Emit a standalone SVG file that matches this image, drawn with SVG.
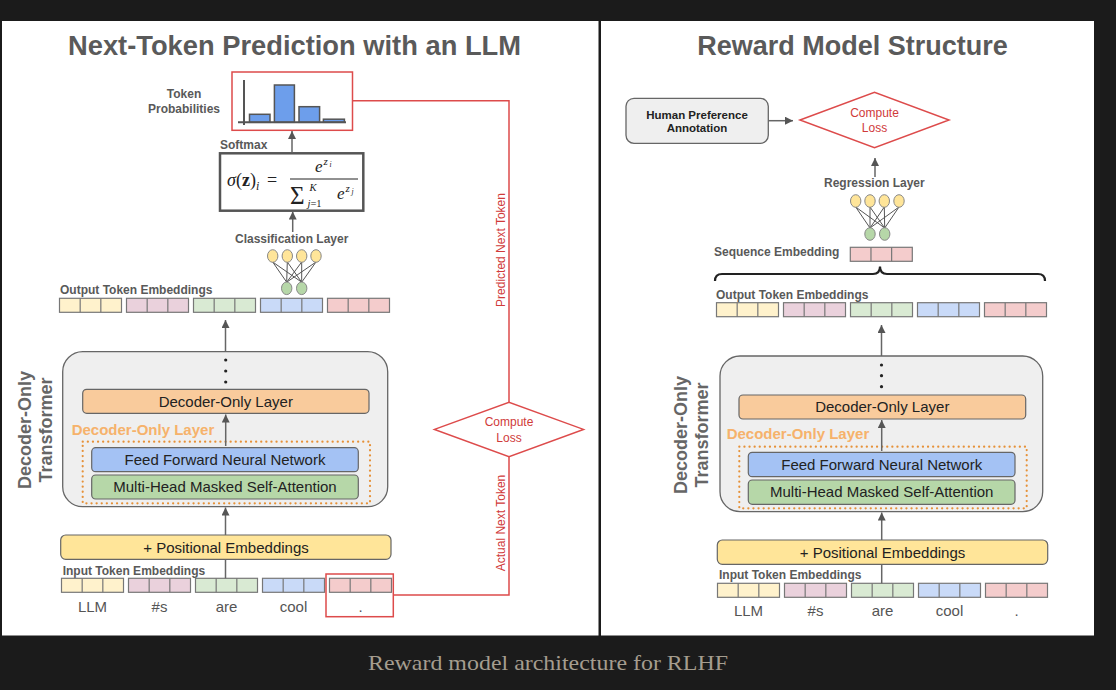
<svg xmlns="http://www.w3.org/2000/svg" xmlns:xlink="http://www.w3.org/1999/xlink" width="1116" height="690" viewBox="0 0 1116 690">
<defs>
<style>
text{font-family:"Liberation Sans",Arial,sans-serif}
.title{font-size:27px;font-weight:bold;fill:#5a5a5a;text-anchor:middle}
.lbl{font-size:12px;font-weight:bold;fill:#595959}
.lblc{font-size:12px;font-weight:bold;fill:#595959;text-anchor:middle}
.box{stroke:#666;stroke-width:1.2}
.btxt{font-size:15px;fill:#222;text-anchor:middle}
.tok{font-size:15px;fill:#555;text-anchor:middle}
.emb{stroke:#777;stroke-width:1.2}
.div{stroke:#777;stroke-width:1.2;fill:none}
.y{fill:#fff2cc}.p{fill:#ead1dc}.g{fill:#d9ead3}.b{fill:#c9daf8}.r{fill:#f4cccc}
.arrow{stroke:#666;stroke-width:1.5;fill:none;marker-end:url(#ah)}
.line{stroke:#666;stroke-width:1.5;fill:none}
.red{stroke:#dd4b4b;stroke-width:1.5;fill:none}
.redtxt{fill:#d03a3a;font-size:12px;text-anchor:middle}
.vtxt{font-size:18px;font-weight:bold;fill:#666;text-anchor:middle}
.olbl{font-size:15px;font-weight:bold;fill:#f6b26b}
.dots{fill:none;stroke:#e69138;stroke-width:2.2;stroke-linecap:round;stroke-dasharray:0.1 5}
.cy{fill:#ffe599;stroke:#888;stroke-width:1}
.cg{fill:#b6d7a8;stroke:#888;stroke-width:1}
.nn{stroke:#555;stroke-width:1;fill:none}
.serif{font-family:"Liberation Serif","Times New Roman",serif;fill:#222}
.hpa{font-size:11.5px;font-weight:bold;fill:#222;text-anchor:middle}
.caption{font-family:"Liberation Serif","Times New Roman",serif;font-size:21px;fill:#a59d8f;text-anchor:middle}
</style>
<marker id="ah" viewBox="0 0 10 10" refX="10" refY="5" markerUnits="userSpaceOnUse" markerWidth="9" markerHeight="8" orient="auto">
<path d="M0,0 L10,5 L0,10 z" fill="#555"/>
</marker>
<path id="dv" d="M20.67,0 v14 M41.33,0 v14" class="div"/>
</defs>

<rect x="0" y="0" width="1116" height="690" fill="#1b1b1b"/>
<rect x="2" y="21" width="596.5" height="614.5" fill="#ffffff"/>
<rect x="601" y="21" width="493" height="614.5" fill="#ffffff"/>

<text class="title" x="294.5" y="55" textLength="453" lengthAdjust="spacingAndGlyphs">Next-Token Prediction with an LLM</text>
<text class="title" x="852.5" y="55">Reward Model Structure</text>

<!-- LEFT PANEL -->
<g id="token-probabilities">
<text class="lblc" x="184" y="98">Token</text>
<text class="lblc" x="184" y="112.5">Probabilities</text>
<rect x="232" y="72" width="120.5" height="58.3" fill="#fff" stroke="#dd4b4b" stroke-width="1.5"/>
<rect x="249.5" y="114.3" width="20.5" height="8" fill="#6d9eeb" stroke="#555" stroke-width="1.5"/>
<rect x="274.4" y="85" width="20" height="37.3" fill="#6d9eeb" stroke="#555" stroke-width="1.5"/>
<rect x="299" y="106.7" width="20.6" height="15.6" fill="#6d9eeb" stroke="#555" stroke-width="1.5"/>
<rect x="323.4" y="119.2" width="21" height="3.1" fill="#6d9eeb" stroke="#555" stroke-width="1.5"/>
<path d="M244,80 V125 M238,122.3 H346" stroke="#555" stroke-width="2" fill="none"/>
</g>

<g id="softmax">
<text class="lbl" x="220" y="149">Softmax</text>
<rect x="220" y="153.3" width="143.3" height="57.4" fill="#fff" stroke="#555" stroke-width="2.5"/>
<text class="serif" x="227" y="186" font-size="18"><tspan font-style="italic">σ</tspan>(<tspan font-weight="bold">z</tspan>)<tspan font-style="italic" font-size="12" dy="4">i</tspan></text>
<text class="serif" x="267" y="186" font-size="18">=</text>
<path d="M290,179 H358" stroke="#222" stroke-width="1"/>
<text class="serif" x="315" y="172" font-size="17" font-style="italic">e</text>
<text class="serif" x="323.5" y="164.5" font-size="11" font-style="italic">z</text>
<text class="serif" x="329.5" y="167" font-size="7.5" font-style="italic">i</text>
<text class="serif" x="290" y="203.5" font-size="25">Σ</text>
<text class="serif" x="309.5" y="191" font-size="10.5" font-style="italic">K</text>
<text class="serif" x="307.5" y="207" font-size="10.5"><tspan font-style="italic">j</tspan>=1</text>
<text class="serif" x="337" y="199" font-size="17" font-style="italic">e</text>
<text class="serif" x="345.5" y="191.5" font-size="11" font-style="italic">z</text>
<text class="serif" x="351.5" y="194" font-size="7.5" font-style="italic">j</text>
</g>

<g id="classification-layer">
<text class="lbl" x="235" y="243.3">Classification Layer</text>
<path class="nn" d="M272.7,262 L286.7,282.2 M272.7,262 L301.7,282.2 M287.3,262 L286.7,282.2 M287.3,262 L301.7,282.2 M301.7,262 L286.7,282.2 M301.7,262 L301.7,282.2 M316,262 L286.7,282.2 M316,262 L301.7,282.2"/>
<ellipse class="cy" cx="272.7" cy="256" rx="5.2" ry="6.3"/>
<ellipse class="cy" cx="287.3" cy="256" rx="5.2" ry="6.3"/>
<ellipse class="cy" cx="301.7" cy="256" rx="5.2" ry="6.3"/>
<ellipse class="cy" cx="316" cy="256" rx="5.2" ry="6.3"/>
<ellipse class="cg" cx="286.7" cy="288.3" rx="5.2" ry="6.3"/>
<ellipse class="cg" cx="301.7" cy="288.3" rx="5.2" ry="6.3"/>
</g>

<g id="output-embeddings-left">
<text class="lbl" x="60" y="294">Output Token Embeddings</text>
<rect class="emb y" x="59.5" y="298.3" width="62" height="14"/><use xlink:href="#dv" x="59.5" y="298.3"/>
<rect class="emb p" x="126.5" y="298.3" width="62" height="14"/><use xlink:href="#dv" x="126.5" y="298.3"/>
<rect class="emb g" x="193.5" y="298.3" width="62" height="14"/><use xlink:href="#dv" x="193.5" y="298.3"/>
<rect class="emb b" x="260.5" y="298.3" width="62" height="14"/><use xlink:href="#dv" x="260.5" y="298.3"/>
<rect class="emb r" x="327.5" y="298.3" width="62" height="14"/><use xlink:href="#dv" x="327.5" y="298.3"/>
</g>

<g id="transformer-left">
<text class="vtxt" transform="translate(30.5,430) rotate(-90)">Decoder-Only</text>
<text class="vtxt" transform="translate(51.5,430) rotate(-90)">Transformer</text>
<rect x="62.7" y="351.7" width="325" height="155" rx="20" fill="#efefef" stroke="#666" stroke-width="1.3"/>
<circle cx="225.7" cy="360" r="1.6" fill="#222"/>
<circle cx="225.7" cy="371" r="1.6" fill="#222"/>
<circle cx="225.7" cy="382" r="1.6" fill="#222"/>
<rect class="box" x="82.7" y="389.3" width="286.3" height="24" rx="4" fill="#f9cb9c"/>
<text class="btxt" x="225.8" y="406.5">Decoder-Only Layer</text>
<text class="olbl" x="71.7" y="435">Decoder-Only Layer</text>
<rect class="dots" x="82.7" y="441.7" width="287.3" height="61.6"/>
<rect class="box" x="91.7" y="447.7" width="266.6" height="24" rx="4" fill="#a4c2f4"/>
<text class="btxt" x="225" y="465">Feed Forward Neural Network</text>
<rect class="box" x="91.7" y="475" width="266.6" height="24" rx="4" fill="#b6d7a8"/>
<text class="btxt" x="225" y="492.3">Multi-Head Masked Self-Attention</text>
</g>

<g id="positional-left">
<rect class="box" x="60.7" y="535" width="330.3" height="24.3" rx="5" fill="#ffe599"/>
<text class="btxt" x="226" y="552.8">+ Positional Embeddings</text>
</g>

<g id="input-embeddings-left">
<text class="lbl" x="62.7" y="575">Input Token Embeddings</text>
<rect class="emb y" x="61.5" y="578.3" width="62" height="14"/><use xlink:href="#dv" x="61.5" y="578.3"/>
<rect class="emb p" x="128.5" y="578.3" width="62" height="14"/><use xlink:href="#dv" x="128.5" y="578.3"/>
<rect class="emb g" x="195.5" y="578.3" width="62" height="14"/><use xlink:href="#dv" x="195.5" y="578.3"/>
<rect class="emb b" x="262.5" y="578.3" width="62" height="14"/><use xlink:href="#dv" x="262.5" y="578.3"/>
<rect class="emb r" x="329.5" y="578.3" width="62" height="14"/><use xlink:href="#dv" x="329.5" y="578.3"/>
<text class="tok" x="92.5" y="611.7">LLM</text>
<text class="tok" x="159.5" y="611.7">#s</text>
<text class="tok" x="226.5" y="611.7">are</text>
<text class="tok" x="293.5" y="611.7">cool</text>
<text class="tok" x="360.5" y="611.7">.</text>
<rect x="326" y="574" width="67.3" height="42.7" fill="none" stroke="#dd4b4b" stroke-width="1.5"/>
</g>

<g id="compute-loss-left">
<polygon points="434.5,429.4 509,402.2 583.5,429.4 509,456.6" fill="#fff" stroke="#dd4b4b" stroke-width="1.5"/>
<text class="redtxt" x="509" y="426">Compute</text>
<text class="redtxt" x="509" y="441.8">Loss</text>
</g>

<!-- RIGHT PANEL -->
<g id="human-preference">
<rect x="626" y="98.3" width="142.3" height="45" rx="8" fill="#efefef" stroke="#666" stroke-width="1.3"/>
<text class="hpa" x="697" y="118.5">Human Preference</text>
<text class="hpa" x="697" y="132.3">Annotation</text>
</g>

<g id="compute-loss-right">
<polygon points="800,120 874.5,92.3 949,120 874.5,147.7" fill="#fff" stroke="#dd4b4b" stroke-width="1.5"/>
<text class="redtxt" x="874.5" y="116.7">Compute</text>
<text class="redtxt" x="874.5" y="131.5">Loss</text>
</g>

<g id="regression-layer">
<text class="lbl" x="824" y="187.3">Regression Layer</text>
<path class="nn" d="M855.7,207 L870,228 M855.7,207 L884.7,228 M870,207 L870,228 M870,207 L884.7,228 M884.3,207 L870,228 M884.3,207 L884.7,228 M899,207 L870,228 M899,207 L884.7,228"/>
<ellipse class="cy" cx="855.7" cy="201" rx="5.2" ry="6.3"/>
<ellipse class="cy" cx="870" cy="201" rx="5.2" ry="6.3"/>
<ellipse class="cy" cx="884.3" cy="201" rx="5.2" ry="6.3"/>
<ellipse class="cy" cx="899" cy="201" rx="5.2" ry="6.3"/>
<ellipse class="cg" cx="870" cy="234" rx="5.2" ry="6.3"/>
<ellipse class="cg" cx="884.7" cy="234" rx="5.2" ry="6.3"/>
</g>

<g id="sequence-embedding">
<text class="lbl" x="714" y="255.5">Sequence Embedding</text>
<rect class="emb r" x="850.3" y="247.3" width="62" height="14"/><use xlink:href="#dv" x="850.3" y="247.3"/>
<path d="M715,281 Q715,274 722,274 H873 Q880,274 880,266.5 Q880,274 887,274 H1038 Q1045,274 1045,281" fill="none" stroke="#222" stroke-width="2.2"/>
</g>

<g id="output-embeddings-right">
<text class="lbl" x="716" y="298.5">Output Token Embeddings</text>
<rect class="emb y" x="716.5" y="302.7" width="62" height="14"/><use xlink:href="#dv" x="716.5" y="302.7"/>
<rect class="emb p" x="783.5" y="302.7" width="62" height="14"/><use xlink:href="#dv" x="783.5" y="302.7"/>
<rect class="emb g" x="850.5" y="302.7" width="62" height="14"/><use xlink:href="#dv" x="850.5" y="302.7"/>
<rect class="emb b" x="917.5" y="302.7" width="62" height="14"/><use xlink:href="#dv" x="917.5" y="302.7"/>
<rect class="emb r" x="984.5" y="302.7" width="62" height="14"/><use xlink:href="#dv" x="984.5" y="302.7"/>
</g>

<g id="transformer-right">
<text class="vtxt" transform="translate(686.5,435) rotate(-90)">Decoder-Only</text>
<text class="vtxt" transform="translate(708,435) rotate(-90)">Transformer</text>
<rect x="720" y="356" width="322.7" height="155.7" rx="20" fill="#efefef" stroke="#666" stroke-width="1.3"/>
<circle cx="881.5" cy="365" r="1.6" fill="#222"/>
<circle cx="881.5" cy="375.7" r="1.6" fill="#222"/>
<circle cx="881.5" cy="386.7" r="1.6" fill="#222"/>
<rect class="box" x="739" y="395" width="286.7" height="24" rx="4" fill="#f9cb9c"/>
<text class="btxt" x="882.3" y="412">Decoder-Only Layer</text>
<text class="olbl" x="726.7" y="439.3">Decoder-Only Layer</text>
<rect class="dots" x="739.3" y="446.7" width="287.4" height="61.6"/>
<rect class="box" x="748.3" y="452.3" width="266.7" height="24.4" rx="4" fill="#a4c2f4"/>
<text class="btxt" x="881.7" y="469.8">Feed Forward Neural Network</text>
<rect class="box" x="748.3" y="480" width="266.7" height="24.3" rx="4" fill="#b6d7a8"/>
<text class="btxt" x="881.7" y="497.2">Multi-Head Masked Self-Attention</text>
</g>

<g id="positional-right">
<rect class="box" x="717.3" y="540" width="330.4" height="24.3" rx="5" fill="#ffe599"/>
<text class="btxt" x="882.5" y="557.5">+ Positional Embeddings</text>
</g>

<g id="input-embeddings-right">
<text class="lbl" x="719" y="579.3">Input Token Embeddings</text>
<rect class="emb y" x="717.5" y="583.3" width="62" height="14"/><use xlink:href="#dv" x="717.5" y="583.3"/>
<rect class="emb p" x="784.5" y="583.3" width="62" height="14"/><use xlink:href="#dv" x="784.5" y="583.3"/>
<rect class="emb g" x="851.5" y="583.3" width="62" height="14"/><use xlink:href="#dv" x="851.5" y="583.3"/>
<rect class="emb b" x="918.5" y="583.3" width="62" height="14"/><use xlink:href="#dv" x="918.5" y="583.3"/>
<rect class="emb r" x="985.5" y="583.3" width="62" height="14"/><use xlink:href="#dv" x="985.5" y="583.3"/>
<text class="tok" x="748.5" y="616.3">LLM</text>
<text class="tok" x="815.5" y="616.3">#s</text>
<text class="tok" x="882.5" y="616.3">are</text>
<text class="tok" x="949.5" y="616.3">cool</text>
<text class="tok" x="1016.5" y="616.3">.</text>
</g>

<g id="connectors">
<path class="arrow" d="M292,152.5 V131"/>
<path class="arrow" d="M292.7,232 V211.5"/>
<path class="arrow" d="M225.5,351.7 V320"/>
<path class="arrow" d="M225.7,446 V414.5"/>
<path class="arrow" d="M225.5,535 V507.5"/>
<path class="line" d="M225.5,578.3 V559.3"/>
<path class="red" d="M352.5,100.7 H509 V402.2"/>
<path class="red" d="M393.3,595 H509 V456.6"/>
<text class="redtxt" transform="translate(505,250) rotate(-90)">Predicted Next Token</text>
<text class="redtxt" transform="translate(505,523) rotate(-90)">Actual Next Token</text>
<path class="arrow" d="M768.3,120.7 H793"/>
<path class="arrow" d="M875,177 V158"/>
<path class="arrow" d="M881.5,356 V325"/>
<path class="arrow" d="M881.7,451 V420"/>
<path class="arrow" d="M881.7,540 V512.5"/>
<path class="line" d="M881.7,583.3 V564.3"/>
</g>

<text class="caption" x="548" y="670" textLength="360" lengthAdjust="spacingAndGlyphs">Reward model architecture for RLHF</text>
</svg>
